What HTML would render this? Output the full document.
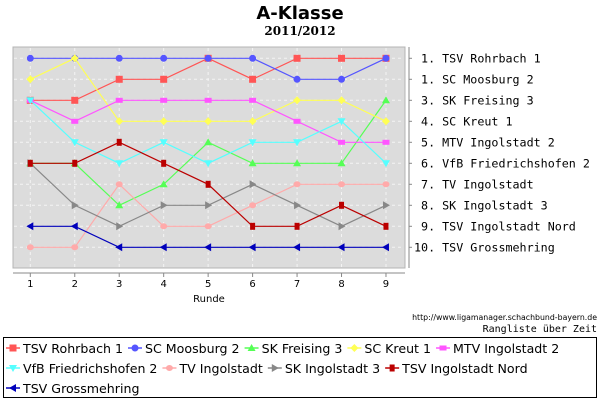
<!DOCTYPE html>
<html><head><meta charset="utf-8"><style>
body{margin:0;background:#fff;}
svg{display:block;}
</style></head><body>
<svg id="s" width="600" height="400" xmlns="http://www.w3.org/2000/svg" font-family="'DejaVu Sans','Liberation Sans',sans-serif">
<text x="300" y="19" text-anchor="middle" font-size="18" font-weight="bold">A-Klasse</text>
<text x="300" y="35" text-anchor="middle" font-size="12" font-weight="bold" font-family="'DejaVu Serif','Liberation Serif',serif">2011/2012</text>
<rect x="13" y="47" width="392" height="221" fill="#dcdcdc" stroke="#b4b4b4" stroke-width="1"/>
<g id="grid"></g>
<line x1="13" y1="273" x2="405" y2="273" stroke="#888"/>
<line x1="409" y1="47" x2="409" y2="268" stroke="#888"/>
<g id="ticks" font-size="10"></g>
<text x="209" y="302" text-anchor="middle" font-size="10">Runde</text>
<g id="series"></g>
<g id="rl" font-family="'DejaVu Sans Mono','Liberation Mono',monospace" font-size="11.7"></g>
<text x="597" y="320" text-anchor="end" font-size="7.8">http://www.ligamanager.schachbund-bayern.de</text>
<text x="597" y="332" text-anchor="end" font-size="10" font-family="'DejaVu Sans Mono','Liberation Mono',monospace">Rangliste über Zeit</text>
<rect x="3.5" y="337.5" width="593" height="60" fill="none" stroke="#000"/>
<g id="leg" font-size="12.6"></g>
</svg>
<script>
const NS="http://www.w3.org/2000/svg";
function el(p,t,a,txt){const e=document.createElementNS(NS,t);for(const k in a)e.setAttribute(k,a[k]);if(txt!==undefined)e.textContent=txt;document.getElementById(p).appendChild(e);return e;}
const X=i=>30.3+(i-1)*44.46, Y=r=>58.3+(r-1)*21;
for(let i=1;i<=9;i++){el('grid','line',{x1:X(i),y1:48,x2:X(i),y2:267,stroke:'#f4f4f4','stroke-dasharray':'3,3'});
el('ticks','line',{x1:X(i),y1:273,x2:X(i),y2:277,stroke:'#888'});
el('ticks','text',{x:X(i),y:287,'text-anchor':'middle'},i);}
for(let r=1;r<=10;r++){el('grid','line',{x1:14,y1:Y(r),x2:404,y2:Y(r),stroke:'#f4f4f4','stroke-dasharray':'3,3'});
el('rl','line',{x1:409,y1:Y(r),x2:412,y2:Y(r),stroke:'#888'});}
const S=[
["TSV Rohrbach 1","#ff5555","sq",[3,3,2,2,1,2,1,1,1]],
["SC Moosburg 2","#5555ff","ci",[1,1,1,1,1,1,2,2,1]],
["SK Freising 3","#55ff55","tu",[6,6,8,7,5,6,6,6,3]],
["SC Kreut 1","#ffff55","di",[2,1,4,4,4,4,3,3,4]],
["MTV Ingolstadt 2","#ff55ff","wr",[3,4,3,3,3,3,4,5,5]],
["VfB Friedrichshofen 2","#55ffff","td",[3,5,6,5,6,5,5,4,6]],
["TV Ingolstadt","#ffaaaa","el",[10,10,7,9,9,8,7,7,7]],
["SK Ingolstadt 3","#888888","tr",[6,8,9,8,8,7,8,9,8]],
["TSV Ingolstadt Nord","#bb0000","tall",[6,6,5,6,7,9,9,8,9]],
["TSV Grossmehring","#0000bb","tl",[9,9,10,10,10,10,10,10,10]]];
function mk(g,t,x,y,c){
 if(t=="sq")el(g,'rect',{x:x-3.5,y:y-3.5,width:7,height:7,fill:c});
 else if(t=="ci")el(g,'circle',{cx:x,cy:y,r:3.5,fill:c});
 else if(t=="tu")el(g,'polygon',{points:`${x},${y-4} ${x+4},${y+3} ${x-4},${y+3}`,fill:c});
 else if(t=="td")el(g,'polygon',{points:`${x-4},${y-3} ${x+4},${y-3} ${x},${y+4}`,fill:c});
 else if(t=="tr")el(g,'polygon',{points:`${x-3},${y-4} ${x+4},${y} ${x-3},${y+4}`,fill:c});
 else if(t=="tl")el(g,'polygon',{points:`${x+3},${y-4} ${x-4},${y} ${x+3},${y+4}`,fill:c});
 else if(t=="di")el(g,'polygon',{points:`${x},${y-4} ${x+4},${y} ${x},${y+4} ${x-4},${y}`,fill:c});
 else if(t=="wr")el(g,'rect',{x:x-3.5,y:y-2.5,width:7,height:5,fill:c});
 else if(t=="el")el(g,'ellipse',{cx:x,cy:y,rx:3.5,ry:3,fill:c});
 else if(t=="tall")el(g,'rect',{x:x-2.5,y:y-3.5,width:5,height:7,fill:c});
}
S.forEach(s=>{el('series','polyline',{points:s[3].map((r,i)=>X(i+1)+','+Y(r)).join(' '),fill:'none',stroke:s[1],'stroke-width':1.2});
 s[3].forEach((r,i)=>mk('series',s[2],X(i+1),Y(r),s[1]));});
const rl=["1. TSV Rohrbach 1","1. SC Moosburg 2","3. SK Freising 3","4. SC Kreut 1","5. MTV Ingolstadt 2","6. VfB Friedrichshofen 2","7. TV Ingolstadt","8. SK Ingolstadt 3","9. TSV Ingolstadt Nord","10. TSV Grossmehring"];
rl.forEach((t,i)=>{const e=el('rl','text',{x:414,y:Y(i+1)+4,'xml:space':'preserve'},(i<9?' ':'')+t);e.style.whiteSpace='pre';});
const rows=[[0,1,2,3,4],[5,6,7,8],[9]];
const ys=[348,368,388];
rows.forEach((row,ri)=>{let x=6;row.forEach(k=>{const s=S[k],y=ys[ri];
 el('leg','line',{x1:x,y1:y,x2:x+14,y2:y,stroke:s[1],'stroke-width':1.5});mk('leg',s[2],x+7,y,s[1]);
 const t=el('leg','text',{x:x+17,y:y+5},s[0]);x+=17+t.getComputedTextLength()+5;});});
</script>
</body></html>
